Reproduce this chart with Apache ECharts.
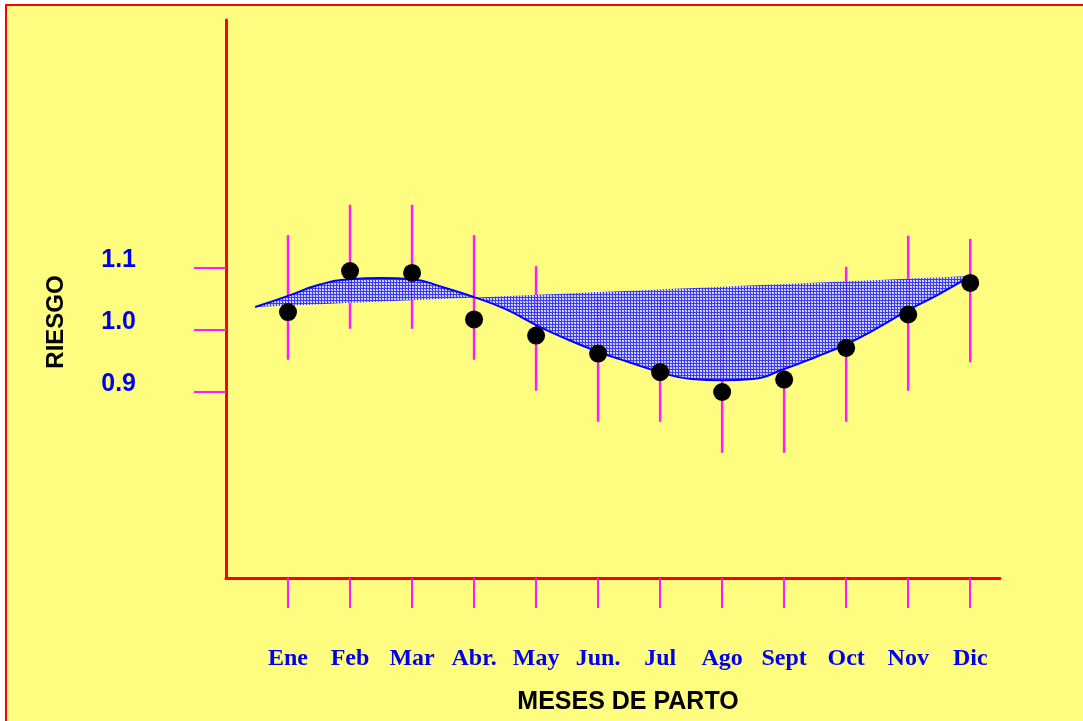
<!DOCTYPE html>
<html><head><meta charset="utf-8">
<script src="https://cdn.jsdelivr.net/npm/echarts@6/dist/echarts.min.js"></script>
<style>
html,body{margin:0;padding:0;background:#ffffff;}
#bg{position:absolute;left:5px;top:4px;width:1078px;height:717px;background:#fffd7f;border-top:2px solid #ff0000;border-left:2px solid #ff0000;}
#chart{position:absolute;left:0;top:0;width:1083px;height:721px;}
</style></head>
<body><div id="bg"></div><div id="chart"></div>
<script>
// ---- data ----
const months = ['Ene','Feb','Mar','Abr.','May','Jun.','Jul','Ago','Sept','Oct','Nov','Dic'];
const monthPos = [1,2,3,4,5,6,7,8,9,10,11,12];
const riesgo = [1.029,1.095,1.092,1.017,0.991,0.962,0.932,0.900,0.920,0.971,1.025,1.076];
const lower  = [0.952,1.002,1.002,0.952,0.902,0.852,0.852,0.802,0.802,0.852,0.902,0.948];
const upper  = [1.153,1.202,1.202,1.153,1.103,1.053,1.053,1.002,1.002,1.102,1.152,1.147];
const curveX = [0.47,1,1.5,2,2.5,3,3.5,4,4.5,5,5.5,6,6.5,7,7.5,8,8.5,9,9.5,10,10.5,11,11.5,12];
const curveY = [1.037,1.055,1.073,1.082,1.084,1.082,1.069,1.053,1.034,1.008,0.985,0.965,0.948,0.932,0.921,0.919,0.921,0.937,0.956,0.977,1.003,1.032,1.058,1.087];
const trendX = [0.47,12];
const trendY = [1.037,1.087];
const yTicks = [0.9,1.0,1.1];

// hatch pattern
const pc = document.createElement('canvas');
pc.width = 3; pc.height = 3;
const g = pc.getContext('2d');
g.fillStyle = '#2020ff'; g.fillRect(0,0,3,3);
g.fillStyle = 'rgba(255,255,255,0.9)'; g.fillRect(1,1,1,1); g.fillRect(2,2,1,1);
g.fillStyle = 'rgba(210,210,255,0.75)'; g.fillRect(2,1,1,1); g.fillRect(1,2,1,1);

const chart = echarts.init(document.getElementById('chart'), null, {renderer:'canvas'});
const MAG = '#ff1aff', BLUE = '#0000ee';

chart.setOption({
  backgroundColor: 'transparent',
  animation: false,
  grid: {left:226, right:83, top:20, bottom:143},
  xAxis: {
    type:'value', min:0, max:12.48,
    splitLine:{show:false},
    axisLine:{show:true, onZero:false, lineStyle:{color:'#ff0000', width:3}},
    axisTick:{show:true, customValues: monthPos, length:30, lineStyle:{color:MAG, width:2}},
    axisLabel:{show:true, customValues: monthPos, margin:69,
      formatter: v => months[Math.round(v)-1] || '',
      color:BLUE, fontFamily:'Liberation Serif', fontWeight:'bold', fontSize:24},
    name:'MESES DE PARTO', nameLocation:'middle', nameGap:112,
    nameTextStyle:{color:'#000', fontFamily:'Liberation Sans', fontWeight:'bold', fontSize:25, padding:[0,0,0,30]}
  },
  yAxis: {
    type:'value', min:0.6, max:1.5,
    splitLine:{show:false},
    axisLine:{show:true, onZero:false, lineStyle:{color:'#ff0000', width:3}},
    axisTick:{show:true, customValues: yTicks, length:32, lineStyle:{color:MAG, width:2}},
    axisLabel:{show:true, customValues: yTicks, margin:90,
      formatter: v => v.toFixed(1), verticalAlign:'bottom', lineHeight:16,
      color:BLUE, fontFamily:'Liberation Sans', fontWeight:'bold', fontSize:25},
    name:'RIESGO', nameLocation:'middle', nameGap:158, nameRotate:90,
    nameTextStyle:{color:'#000', fontFamily:'Liberation Sans', fontWeight:'bold', fontSize:24, padding:[0,46,0,0]}
  },
  series: [
    {
      type:'custom', z:2, clip:false,
      data: monthPos.map((m,i)=>[m, lower[i], upper[i]]),
      renderItem: (params, api) => {
        const a = api.coord([api.value(0), api.value(1)]);
        const b = api.coord([api.value(0), api.value(2)]);
        return {type:'line', shape:{x1:a[0], y1:a[1], x2:b[0], y2:b[1]},
          style:{stroke:MAG, lineWidth:2.5}};
      }
    },
    {
      type:'custom', z:3, clip:false,
      data: [[curveX[0], curveY[0]]],
      renderItem: (params, api) => {
        const pts = curveX.map((x,i)=>api.coord([x, curveY[i]]));
        for (let i = trendX.length-1; i >= 0; i--) pts.push(api.coord([trendX[i], trendY[i]]));
        return {type:'polygon', shape:{points:pts, smooth:0.25},
          style:{fill:{image:pc, repeat:'repeat'}, stroke:null, opacity:0.88}};
      }
    },
    {
      type:'line', z:4, data: curveX.map((x,i)=>[x, curveY[i]]),
      smooth:true, symbol:'none', lineStyle:{color:'#0000ff', width:2}
    },
    {
      type:'scatter', z:5, data: monthPos.map((m,i)=>[m, riesgo[i]]),
      symbol:'circle', symbolSize:18, itemStyle:{color:'#000000', opacity:1}
    }
  ]
});
</script></body></html>
